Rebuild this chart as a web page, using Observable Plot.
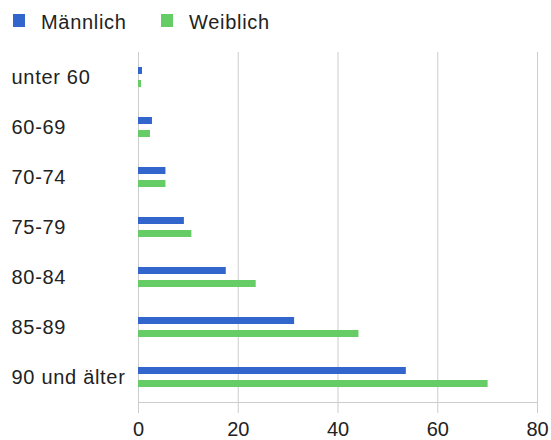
<!DOCTYPE html>
<html>
<head>
<meta charset="utf-8">
<script src="https://cdn.jsdelivr.net/npm/d3@7"></script>
<script src="https://cdn.jsdelivr.net/npm/@observablehq/plot@0.6"></script>
<style>
  html, body { margin: 0; padding: 0; background: #fff; }
  body { width: 551px; height: 440px; overflow: hidden; font-family: "Liberation Sans", Arial, sans-serif; }
  #legend { position: relative; height: 40px; width: 551px; }
  .sw { position: absolute; width: 12px; height: 13px; top: 14px; }
  .lt { position: absolute; top: 12px; font-size: 20px; line-height: 20px; letter-spacing: 0.7px; color: #222; white-space: nowrap; }
  #chart svg { display: block; }
  #chart svg g[aria-label="y-axis tick label"] text { letter-spacing: 0.7px; }
</style>
</head>
<body>
<div id="legend"></div>
<div id="chart"></div>
<script>
const categories = ["unter 60", "60-69", "70-74", "75-79", "80-84", "85-89", "90 und älter"];
const seriesNames = ["Männlich", "Weiblich"];
const seriesColors = ["#3366cc", "#66cc66"];
const maennlich = [0.8, 2.8, 5.5, 9.2, 17.6, 31.3, 53.7];
const weiblich = [0.6, 2.4, 5.5, 10.7, 23.6, 44.2, 70.1];
const xTicks = [0, 20, 40, 60, 80];

// Legend
const legend = document.getElementById("legend");
const legendPos = [[13, 41], [161, 189]];
seriesNames.forEach((name, i) => {
  const sw = document.createElement("div");
  sw.className = "sw";
  sw.style.left = legendPos[i][0] + "px";
  sw.style.background = seriesColors[i];
  legend.appendChild(sw);
  const t = document.createElement("div");
  t.className = "lt";
  t.style.left = legendPos[i][1] + "px";
  t.textContent = name;
  legend.appendChild(t);
});

const rows = [];
categories.forEach((c, i) => {
  rows.push({cat: c, series: seriesNames[0], value: maennlich[i]});
  rows.push({cat: c, series: seriesNames[1], value: weiblich[i]});
});

const chart = Plot.plot({
  width: 551,
  height: 400,
  marginLeft: 138,
  marginRight: 14,
  marginTop: 12,
  marginBottom: 38,
  style: {fontFamily: "'Liberation Sans', Arial, sans-serif", fontSize: "20px", color: "#222", background: "#fff"},
  x: {domain: [0, 80], ticks: xTicks},
  y: {domain: categories, padding: 0},
  color: {domain: seriesNames, range: seriesColors},
  marks: [
    Plot.gridX(xTicks, {stroke: "#cccccc", strokeOpacity: 1}),
    Plot.axisX({ticks: xTicks, tickSize: 11, tickPadding: 8, stroke: "#cccccc", strokeOpacity: 1, tickFormat: d => String(d), fill: "#222", label: null}),
    Plot.axisY({tickSize: 0, tickPadding: 0, textAnchor: "start", dx: -127, fill: "#222", label: null}),
    Plot.frame({anchor: "bottom", stroke: "#cccccc", strokeOpacity: 1}),
    Plot.barX(rows.filter(d => d.series === seriesNames[0]), {x: "value", y: "cat", fill: "series", insetTop: 15, insetBottom: 28}),
    Plot.barX(rows.filter(d => d.series === seriesNames[1]), {x: "value", y: "cat", fill: "series", insetTop: 28, insetBottom: 15})
  ]
});
document.getElementById("chart").appendChild(chart);
</script>
</body>
</html>
